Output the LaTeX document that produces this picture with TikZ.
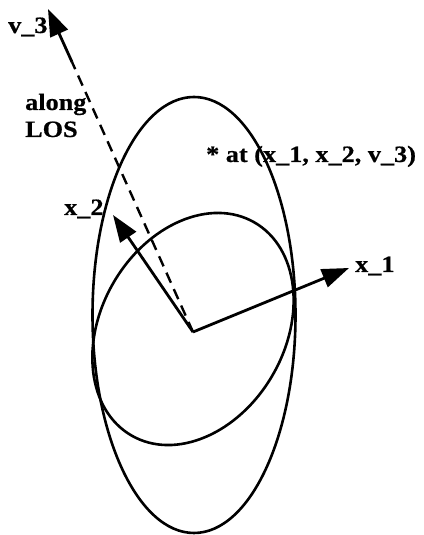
\documentclass[tikz,border=0pt]{standalone}
\usepackage{fontspec}
\setmainfont{Liberation Serif}[FakeStretch=1.12,BoldFeatures={FakeBold=0.6}]
\usetikzlibrary{arrows.meta}
\begin{document}
\begin{tikzpicture}[x=1bp,y=1bp,
  curve/.style={line width=2.6bp},
  axis/.style={line width=2.8bp,-{Triangle[length=27bp,width=19bp]}},
  los/.style={line width=2.4bp,dash pattern=on 11bp off 7bp},
  lbl/.style={font=\bfseries\fontsize{23.5}{25}\selectfont,inner sep=0pt,anchor=base west}]
\useasboundingbox (0,0) rectangle (423,535);
\coordinate (O) at (193,203);
\coordinate (x1) at (349,267);
\coordinate (x2) at (113,320);
\coordinate (v3) at (48,526);
\coordinate (vs) at (72,473);
\draw[curve] (194,220) ellipse [x radius=101.5, y radius=218];
\draw[curve] (193,206) ellipse [x radius=123, y radius=92, rotate=60];
\draw[los] (O) -- (vs);
\draw[axis] (vs) -- (v3);
\draw[axis] (O) -- (x1);
\draw[axis] (O) -- (x2);
\node[lbl] (l3) at (8,502) {v\_3};
\node[lbl] (la) at (25,425) {along};
\node[lbl] (lb) at (25,398) {LOS};
\node[lbl] (lp) at (206,373) {* at (x\_1, x\_2, v\_3)};
\node[lbl] (l2) at (64,320) {x\_2};
\node[lbl] (l1) at (355,263) {x\_1};
\end{tikzpicture}
\end{document}
